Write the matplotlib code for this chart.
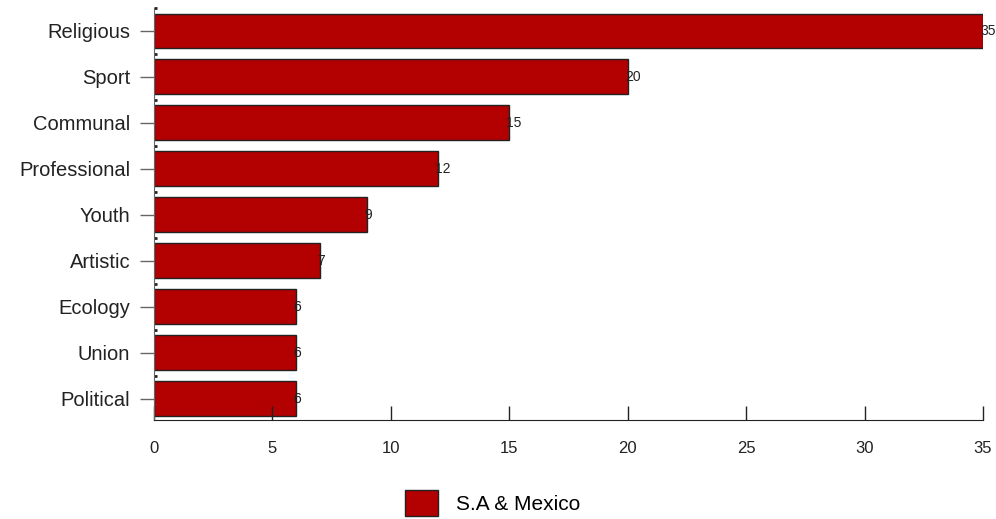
import matplotlib
matplotlib.use("Agg")
import matplotlib.pyplot as plt
from matplotlib.patches import Patch

categories = ["Religious", "Sport", "Communal", "Professional", "Youth",
              "Artistic", "Ecology", "Union", "Political"]
values = [35, 20, 15, 12, 9, 7, 6, 6, 6]
series_name = "S.A & Mexico"
xticks = [0, 5, 10, 15, 20, 25, 30, 35]

plt.rcParams['font.family'] = ['Liberation Sans', 'DejaVu Sans']
color = "#B30000"

fig = plt.figure(figsize=(9.96, 5.19), dpi=100)
ax = fig.add_axes([0.1546, 0.1908, 0.987 - 0.1546, 0.9846 - 0.1908])

n = len(categories)
pos = [n - 1 - i for i in range(n)]
ax.barh(pos, values, height=0.76, color=color, edgecolor="#222222", linewidth=1.0)
for p, v in zip(pos, values):
    ax.text(v - 0.12, p, str(v), ha="left", va="center", fontsize=10, color="#222222")

ax.set_xlim(0, 35)
ax.set_ylim(-0.46, n - 0.5)
ax.set_yticks(pos)
ax.set_yticklabels(categories, fontsize=14.5, color="#222222")
ax.set_xticks(xticks)
ax.set_xticklabels([str(t) for t in xticks], fontsize=12, color="#222222")
ax.tick_params(axis="y", direction="out", length=10, width=1, color="#666666", pad=7)
ax.tick_params(axis="x", direction="in", length=10, width=1, color="#222222", pad=15)
ax.set_yticks([p + 0.5 for p in pos], minor=True)
ax.tick_params(axis="y", which="minor", direction="in", length=2, width=2, color="#222222")
for s in ["top", "right"]:
    ax.spines[s].set_visible(False)
ax.spines["left"].set_color("#666666")
ax.spines["bottom"].set_color("#222222")

handle = Patch(facecolor=color, edgecolor="#222222", linewidth=1.0)
fig.legend([handle], [series_name], loc="center", bbox_to_anchor=(0.495, 0.031),
           frameon=False, fontsize=15, handlelength=1.55, handleheight=1.55,
           handletextpad=0.9, borderpad=0.0)

fig.savefig("out.png", dpi=100)
